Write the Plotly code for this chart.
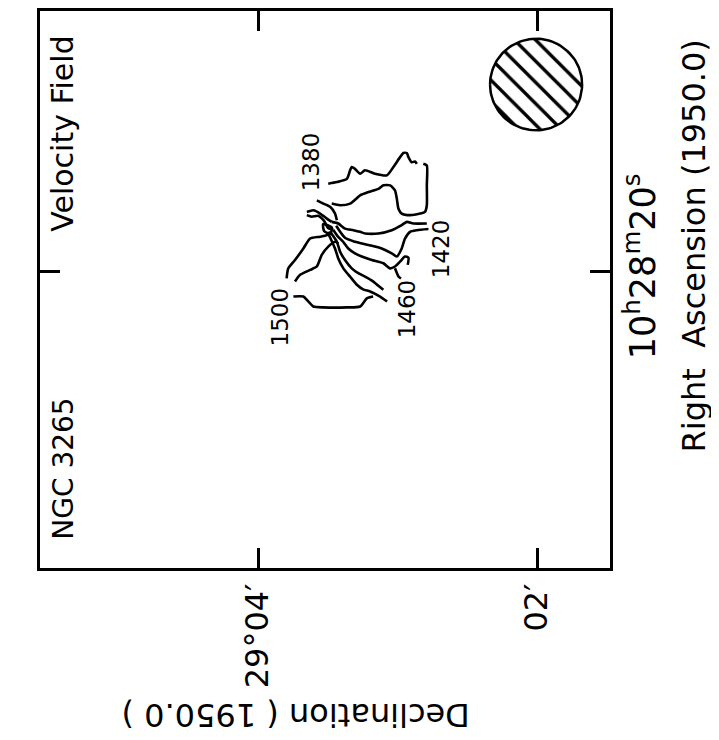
import numpy as np
import plotly.graph_objects as go

# offsets in arcsec from (Dec 29d04m, RA 10h28m20s); x = dDec, y = dRA
# each contour, keyed by segment
contour_1380_a_dec = [-30.2, -33.9, -38.2, -39.6, -40.3, -41.7, -43.9, -46.0, -50.3, -55.4, -58.2, -61.1, -62.5, -64.0, -64.7, -66.1, -67.5, -68.3]
contour_1380_a_ra = [-38.0, -38.7, -40.1, -43.8, -45.2, -44.4, -42.3, -43.8, -42.3, -41.6, -45.2, -49.5, -51.3, -51.3, -49.5, -47.3, -47.6, -46.6]

contour_1400_dec = [-31.7, -35.3, -39.6, -43.1, -43.9, -47.5, -51.8, -53.9, -56.8, -58.9, -59.7, -60.4, -61.8, -65.4, -69.7, -71.8, -72.6, -72.6, -72.6, -71.1]
contour_1400_ra = [-29.4, -28.7, -29.4, -32.3, -33.0, -34.4, -35.8, -37.3, -37.3, -35.1, -31.5, -27.2, -25.1, -24.4, -25.1, -25.8, -28.7, -37.3, -45.9, -46.6]

contour_1420_a_dec = [-31.7, -34.5, -37.4, -41.0, -43.9, -46.0, -51.8, -57.5, -61.8, -64.0, -66.8, -72.6]
contour_1420_a_ra = [-21.5, -20.8, -18.6, -17.9, -17.2, -16.5, -16.5, -17.9, -20.1, -21.5, -20.8, -20.8]

contour_1420_b_dec = [-33.6, -37.4, -41.7, -47.5, -53.2, -57.5, -59.7, -61.8, -63.2, -65.4, -68.3, -73.3]
contour_1420_b_ra = [-19.8, -14.6, -12.9, -11.5, -10.0, -7.9, -6.5, -10.0, -14.3, -17.2, -17.9, -18.4]

contour_1440_dec = [-32.3, -34.4, -36.6, -38.8, -41.7, -44.6, -48.9, -53.9, -56.8, -58.9, -61.1, -63.2, -64.7, -64.4]
contour_1440_ra = [-18.1, -15.1, -12.9, -10.0, -7.9, -6.5, -5.0, -3.6, -1.4, -2.2, -4.3, -6.5, -6.0, -2.9]

contour_1440_b_dec = [-58.9, -60.4, -61.5]
contour_1440_b_ra = [-1.4, 2.1, 3.0]

contour_1460_a_dec = [-31.0, -33.9, -35.3, -37.4, -40.3, -43.1, -46.0, -49.0, -51.6, -53.9]
contour_1460_a_ra = [-17.2, -12.9, -8.6, -5.0, -1.4, 0.7, 2.2, 3.9, 6.0, 7.9]

contour_1460_b_dec = [-30.2, -33.1, -34.5, -36.7, -39.6, -42.5, -45.2, -48.2, -52.5, -55.5]
contour_1460_b_ra = [-16.5, -10.0, -5.7, -1.4, 2.2, 5.7, 7.7, 8.6, 10.8, 12.9]

contour_1480_dec = [-12.3, -13.0, -15.9, -19.5, -22.4, -26.7, -29.6, -31.0]
contour_1480_ra = [2.9, -1.4, -5.0, -10.0, -14.3, -15.1, -15.8, -17.2]

contour_1490_dec = [-15.9, -18.1, -22.4, -25.3, -27.4, -30.2, -33.1, -34.5]
contour_1490_ra = [4.3, 1.4, -0.7, -2.2, -7.2, -10.8, -12.9, -12.2]

contour_1500_dec = [-15.2, -19.5, -21.6, -23.8, -28.1, -38.2, -43.9, -46.8, -49.5]
contour_1500_ra = [10.8, 10.8, 12.9, 15.1, 15.5, 15.5, 15.1, 11.6, 10.8]

knot_1_dec = [-21.0, -23.8, -26.7, -29.6, -31.7]
knot_1_ra = [-25.8, -26.5, -25.1, -22.9, -21.5]
knot_2_dec = [-25.3, -28.1, -31.0, -33.1, -33.9]
knot_2_ra = [-30.8, -29.4, -28.0, -25.1, -22.2]
knot_3_dec = [-21.0, -23.1, -25.8, -28.4, -30.1, -32.3]
knot_3_ra = [-24.4, -23.7, -24.1, -21.9, -18.9, -18.1]
knot_loop_dec = [-28.0, -28.4, -31.0, -31.8, -28.0]
knot_loop_ra = [-20.6, -17.6, -16.3, -18.9, -20.6]

segments = [
    (contour_1380_a_dec, contour_1380_a_ra),
    (contour_1400_dec, contour_1400_ra),
    (contour_1420_a_dec, contour_1420_a_ra),
    (contour_1420_b_dec, contour_1420_b_ra),
    (contour_1440_dec, contour_1440_ra),
    (contour_1440_b_dec, contour_1440_b_ra),
    (contour_1460_a_dec, contour_1460_a_ra),
    (contour_1460_b_dec, contour_1460_b_ra),
    (contour_1480_dec, contour_1480_ra),
    (contour_1490_dec, contour_1490_ra),
    (contour_1500_dec, contour_1500_ra),
    (knot_1_dec, knot_1_ra),
    (knot_2_dec, knot_2_ra),
    (knot_3_dec, knot_3_ra),
    (knot_loop_dec, knot_loop_ra),
]

# contour labels (km/s) and where they sit
label_text = ["1380", "1420", "1460", "1500"]
label_dec = [-22.8, -78.5, -64.1, -9.5]
label_ra = [-47.3, -9.9, 16.3, 19.8]

# beam
beam_dec = -119.6
beam_ra = -80.9
beam_radius = 19.8

# axis ticks
dec_ticks = [0, -120]
dec_ticktext = ["29°04′", "02′"]
ra_ticks = [0]
ra_ticktext = ["10<sup>h</sup>28<sup>m</sup>20<sup>s</sup>"]

FONT = "DejaVu Sans"

fig = go.Figure()

for dec, ra in segments:
    fig.add_trace(go.Scatter(
        x=dec, y=ra, mode="lines",
        line=dict(color="black", width=2.6, shape="spline", smoothing=0.6),
        showlegend=False, hoverinfo="skip",
    ))

theta = np.linspace(0, 2 * np.pi, 120)
fig.add_trace(go.Scatter(
    x=beam_dec + beam_radius * np.cos(theta),
    y=beam_ra + beam_radius * np.sin(theta),
    mode="lines", fill="toself",
    fillpattern=dict(shape="\\", fgcolor="black", fgopacity=1, bgcolor="white", size=15, solidity=0.22),
    line=dict(color="black", width=2.5),
    showlegend=False, hoverinfo="skip",
))

for t, xd, yd in zip(label_text, label_dec, label_ra):
    fig.add_annotation(x=xd, y=yd, xref="x", yref="y", text=t, textangle=-90,
                       xanchor="center", yanchor="middle",
                       showarrow=False, font=dict(family=FONT, size=23, color="black"))

texts = [
    ("Velocity Field", 0.039, 0.78, -90, 30),
    ("NGC 3265", 0.041, 0.179, -90, 28),
    ("Right  Ascension (1950.0)", 1.149, 0.579, -90, 32),
    ("Declination ( 1950.0 )", 0.449, -0.263, 180, 32),
]
for t, px, py, ang, sz in texts:
    fig.add_annotation(x=px, y=py, xref="paper", yref="paper", text=t, textangle=ang,
                       xanchor="center", yanchor="middle", showarrow=False,
                       font=dict(family=FONT, size=sz, color="black"))

axis_style = dict(showgrid=False, zeroline=False, showline=True, linecolor="black", linewidth=2.5,
                  mirror="ticks", ticks="inside", ticklen=20, tickwidth=2.5, tickcolor="black",
                  tickangle=-90)

# page body adds an 8px offset, so the figure is 8px smaller than the window
fig.update_layout(
    width=711, height=732,
    margin=dict(l=32, r=109, t=0, b=172),
    paper_bgcolor="white", plot_bgcolor="white",
    xaxis=dict(range=[93.8, -151.4], tickvals=dec_ticks, ticktext=dec_ticktext,
               tickfont=dict(family=FONT, size=32, color="black"), **axis_style),
    yaxis=dict(range=[128.2, -112.7], tickvals=ra_ticks, ticktext=ra_ticktext, side="right",
               tickfont=dict(family=FONT, size=35, color="black"), **axis_style),
)

fig.write_html("out.html")
